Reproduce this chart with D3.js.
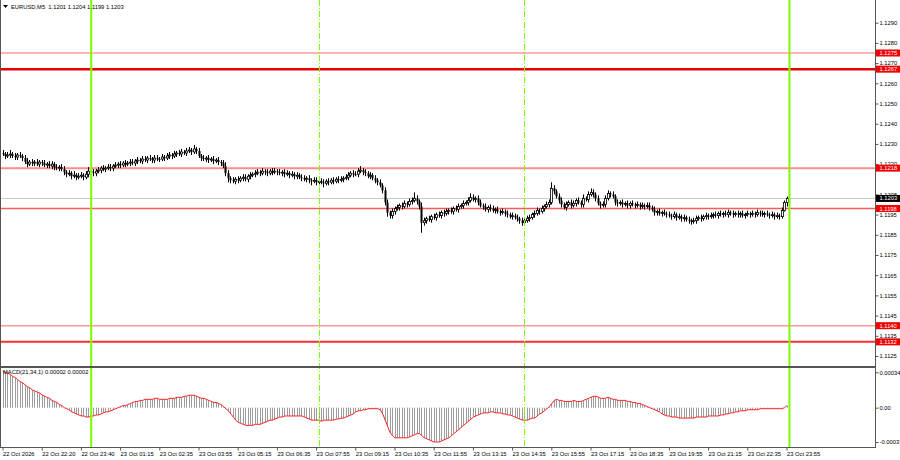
<!DOCTYPE html>
<html>
<head>
<meta charset="utf-8">
<script src="https://cdn.jsdelivr.net/npm/d3@7"></script>
<style>
  body { margin: 0; background: #fff; }
  svg { display: block; }
  text { font-family: "Liberation Sans", Arial, sans-serif; }
</style>
</head>
<body>
<svg id="chart" width="900" height="460"></svg>
<script>

// ---- data ----
var symbolTitle = 'EURUSD,M5';
var lastOHLC = ['1.1201', '1.1204', '1.1199', '1.1203'];
var macdTitle = 'MACD(21,34,1) 0.00002 0.00002';

// closes in pips above 1.1200, one per M5 bar
var pipBase = 1.1200, pip = 0.0001;
var firstOpen = 25.5;
var closePips = [
  25, 24, 24.5, 25, 24, 23.5, 24.5, 24, 23, 21, 20, 21, 20.5, 21, 20, 21,
  20.5, 19.5, 20, 19, 20, 18.5, 18, 18.5, 17.5, 16, 15, 15.5, 14, 14.5, 13.5, 14,
  14.5, 13.5, 15, 16.5, 16, 15.5, 16.5, 17, 18, 17.5, 18, 18.5, 18, 19, 19.5, 20,
  19.5, 20.5, 20, 20.5, 21, 20.5, 21.5, 22, 21.5, 22.5, 22, 23, 22.5, 22, 23, 22.5,
  22.5, 23.5, 23, 24, 24.5, 24, 25, 25.5, 25, 26, 25.5, 26.5, 27, 26, 27.5, 26.5,
  24, 23, 22.5, 23, 22, 22.5, 21.5, 22, 21, 20.5, 19, 15.5, 13, 12, 11.5, 12.5,
  12, 13, 13.5, 12.5, 14, 14.5, 15, 15.5, 16, 15.5, 16.5, 16, 15.5, 16.5, 16, 16.5,
  16, 15.5, 16, 15, 15.5, 14.5, 15, 14, 14.5, 13.5, 13, 12.5, 13, 12, 11.5, 12,
  11, 11.5, 11, 10.5, 11.5, 11, 12, 11.5, 12.5, 12, 12.5, 13, 13.5, 14.5, 15.5, 15,
  15, 16.5, 17, 16, 15.5, 14, 14.5, 13, 12, 11, 9.5, 7, 1, -4, -5.5, -3.5,
  -2, -1.5, -0.5, -1, 0.5, 0, 1.5, 2, 3, 1.5, -1, -9, -8, -7, -7.5, -6,
  -6.5, -5, -5.5, -4, -4.5, -3.5, -3, -3.5, -2, -2.5, -1, -0.5, 0.5, 1, 2, 3.5,
  2.5, 3, 1, -0.5, -1, -2.5, -1.5, -2, -3, -2.5, -3.5, -4, -3.5, -4.5, -5, -6,
  -5.5, -6.5, -7, -8, -9, -8, -7, -6.5, -5, -4.5, -3, -3.5, -2, -1, 0, 1,
  8, 6.5, 4, 2, 0, -1.5, 0, 1, -0.5, 0.5, 2, 1, 0, 3, 2.5, 5,
  6, 5, 3, 0.5, -0.5, 0, 3, 5.5, 5, 4, 1, 0.5, 1, 0, 0.5, -0.5,
  0.5, 0, -0.5, 0, -1, -0.5, -1, -0.5, -1.5, -2.5, -4, -3.5, -4.5, -4, -4.5, -5,
  -5.5, -6, -5, -6.5, -6, -7, -6.5, -7.5, -8, -8.5, -8, -7, -6.5, -7, -6, -5.5,
  -6, -5.5, -5, -5.5, -4.5, -5, -4.5, -5, -4, -4.5, -5, -4.5, -5, -4.5, -5.5, -5,
  -4.5, -5, -4.5, -5, -4, -4.5, -5, -4.5, -5, -5.5, -5, -6, -5.5, -6, -3, 1,
  3
];

// upper / lower shadow length in pips beyond the body
var wickHi = [
  1.5, 1, 1.5, 2, 1, 1.5, 1, 1.5, 1, 1.5, 2, 1, 1.5, 1, 1.5, 1,
  1, 1.5, 1, 1.5, 1.5, 1, 1.5, 1, 1.5, 1.5, 1, 1.5, 1, 2, 1, 1.5,
  1.5, 1, 1.5, 2, 1, 1.5, 1, 1.5, 1, 1.5, 1, 1.5, 1.5, 1, 1.5, 1,
  1.5, 1, 1.5, 1, 1.5, 1.5, 1, 1.5, 1, 1.5, 1.5, 1, 1.5, 1, 1.5, 1.5,
  1, 1.5, 1, 1.5, 1.5, 1, 1.5, 1, 1.5, 1.5, 1, 1.5, 1.5, 1, 2, 1,
  1.5, 1, 1.5, 1, 1.5, 1, 1.5, 1, 1.5, 1, 1.5, 2, 1.5, 1, 1.5, 1,
  1.5, 1, 1.5, 1.5, 1, 1.5, 1, 1.5, 1.5, 1, 1.5, 1, 1.5, 1, 1.5, 1.5,
  1, 1.5, 1, 1.5, 1.5, 1, 1.5, 1, 1.5, 1, 1.5, 1.5, 1, 1.5, 1, 1.5,
  1.5, 1, 1.5, 1.5, 1, 1.5, 1, 1.5, 1, 1.5, 1.5, 1, 1.5, 1.5, 1, 1.5,
  1.5, 1.5, 2, 1, 1.5, 1, 1.5, 1, 1.5, 1, 1.5, 1, 1.5, 1.5, 1, 1.5,
  1, 1.5, 1, 1.5, 1.5, 1, 1.5, 1.5, 3, 1.5, 1, 2, 1.5, 1, 1.5, 1,
  1.5, 1, 1.5, 1, 1.5, 1.5, 1, 1.5, 1, 1.5, 1.5, 1, 1.5, 1, 1.5, 2,
  1.5, 1, 1.5, 1.5, 1, 1.5, 1, 1.5, 1.5, 1, 1.5, 1, 1.5, 1, 1.5, 1,
  1.5, 1, 1.5, 1, 1.5, 1, 1.5, 1.5, 1, 1.5, 1.5, 1, 1.5, 1, 1.5, 1.5,
  3, 1.5, 1, 1.5, 1.5, 1, 1.5, 1, 1.5, 1.5, 1, 1.5, 1, 2, 1, 1.5,
  2, 1.5, 1, 1.5, 1, 1.5, 1.5, 1.5, 1, 1.5, 1, 1.5, 1, 1.5, 1, 1.5,
  1, 1.5, 1, 1.5, 1, 1.5, 1, 1.5, 1.5, 1, 1.5, 1, 1.5, 1, 1.5, 1,
  1.5, 1, 1.5, 1, 1.5, 1, 1.5, 1, 1.5, 1, 1.5, 1.5, 1, 1.5, 1, 1.5,
  1, 1.5, 1, 1.5, 1, 1.5, 1, 1.5, 1.5, 1, 1.5, 1, 1.5, 1, 1.5, 1,
  1.5, 1, 1.5, 1, 1.5, 1, 1.5, 1, 1.5, 1, 1.5, 1, 1.5, 1, 1.5, 1,
  1
];
var wickLo = [
  1, 1.5, 1, 1.5, 1, 1.5, 1.5, 1, 1.5, 1, 1.5, 1, 1.5, 1.5, 1, 1.5,
  1.5, 1, 1.5, 1, 1.5, 1.5, 1, 1.5, 1, 1.5, 1.5, 1, 1.5, 1, 1.5, 1,
  1, 1.5, 1, 1.5, 1, 1.5, 1.5, 1, 1.5, 1, 1.5, 1, 1.5, 1.5, 1, 1.5,
  1.5, 1, 1.5, 1, 1.5, 1, 1.5, 1.5, 1, 1.5, 1, 1.5, 1, 1.5, 1.5, 1,
  1.5, 1, 1.5, 1, 1.5, 1.5, 1, 1.5, 1, 1.5, 1, 1.5, 1, 1.5, 1, 1.5,
  1, 1.5, 1, 1.5, 1.5, 1, 1.5, 1, 1.5, 1.5, 1, 1.5, 2, 1.5, 1, 1.5,
  1.5, 1, 1.5, 1, 1.5, 1.5, 1, 1.5, 1, 1.5, 1, 1.5, 1.5, 1, 1.5, 1,
  1.5, 1, 1.5, 1.5, 1, 1.5, 1, 1.5, 1.5, 1, 1.5, 1, 1.5, 1.5, 2, 1,
  1.5, 1.5, 1, 2, 1, 1.5, 1, 1.5, 1, 1.5, 1, 1.5, 1, 1.5, 1, 1.5,
  1, 1.5, 1, 1.5, 1.5, 1, 1.5, 1, 1.5, 1.5, 1, 1.5, 1.5, 2, 1.5, 1.5,
  1.5, 1, 1.5, 1.5, 1, 1.5, 1, 1.5, 1, 1.5, 1.5, 5, 1.5, 1.5, 1, 1.5,
  1, 1.5, 1, 1.5, 1.5, 1, 1.5, 1, 1.5, 1, 1.5, 1, 1.5, 1, 1.5, 1,
  1, 1.5, 1.5, 1, 1.5, 1, 1.5, 1.5, 1, 1.5, 1, 1.5, 1, 1.5, 1.5, 1,
  1.5, 1, 1.5, 1.5, 1.5, 1.5, 1, 1.5, 1, 1.5, 1, 1.5, 1, 1.5, 1, 1.5,
  1, 1.5, 1, 1.5, 1.5, 1, 1.5, 1, 1.5, 1, 1.5, 1, 1.5, 1.5, 1, 1.5,
  1, 1.5, 1.5, 1, 1.5, 1, 1.5, 1, 1.5, 1, 1.5, 1.5, 1, 1.5, 1, 1.5,
  1.5, 1, 1.5, 1, 1.5, 1, 1.5, 1, 1.5, 1, 1.5, 1.5, 1, 1.5, 1, 1.5,
  1, 1.5, 1, 1.5, 1, 1.5, 1.5, 1, 1.5, 1.5, 1, 1.5, 1, 1.5, 1, 1.5,
  1.5, 1, 1.5, 1, 1.5, 1, 1.5, 1, 1.5, 1, 1.5, 1, 1.5, 1.5, 1, 1.5,
  1, 1.5, 1, 1.5, 1, 1.5, 1, 1.5, 1, 1.5, 1, 1.5, 1, 1.5, 1, 0.5,
  2
];

// MACD main value per bar, in units of 0.00001
var macdVals = [
  35, 34, 33, 32, 30, 29, 27, 25, 24, 22, 20, 19, 17, 16, 15, 14,
  12, 11, 10, 9, 7, 6, 5, 3, 2, 0, -1, -2, -4, -5, -6, -7,
  -8, -8, -9, -9, -8, -8, -7, -7, -6, -5, -4, -4, -3, -2, -1, 0,
  1, 2, 2, 3, 4, 5, 6, 6, 7, 7, 8, 8, 8, 8, 9, 9,
  8, 8, 8, 8, 9, 9, 9, 10, 10, 10, 11, 11, 12, 12, 12, 11,
  10, 9, 9, 8, 7, 6, 5, 5, 4, 3, 1, -1, -3, -6, -9, -12,
  -14, -15, -16, -17, -17, -17, -17, -16, -16, -16, -15, -14, -13, -12, -12, -11,
  -10, -9, -9, -8, -8, -8, -8, -8, -8, -8, -8, -9, -10, -11, -12, -12,
  -12, -12, -13, -12, -12, -12, -12, -12, -11, -11, -10, -10, -9, -8, -7, -6,
  -4, -3, -3, -2, -2, -1, -1, -1, -1, -1, -2, -6, -12, -18, -24, -27,
  -29, -29, -29, -29, -29, -29, -28, -27, -26, -25, -25, -27, -29, -30, -31, -32,
  -33, -33, -33, -32, -31, -30, -29, -27, -25, -23, -21, -19, -17, -15, -13, -11,
  -9, -8, -7, -6, -5, -5, -5, -4, -4, -5, -5, -5, -6, -6, -7, -7,
  -8, -9, -10, -11, -12, -12, -12, -11, -10, -10, -8, -6, -5, -3, -1, 1,
  4, 7, 8, 7, 7, 6, 6, 6, 6, 7, 6, 6, 6, 7, 8, 9,
  10, 11, 11, 10, 9, 9, 9, 10, 9, 8, 8, 7, 7, 7, 7, 6,
  6, 5, 5, 4, 4, 3, 2, 1, 0, -1, -2, -3, -4, -6, -7, -8,
  -8, -9, -9, -9, -10, -10, -10, -10, -10, -10, -10, -9, -9, -9, -9, -9,
  -8, -8, -8, -8, -8, -7, -7, -6, -6, -5, -5, -4, -4, -3, -3, -3,
  -2, -2, -2, -2, -2, -1, -1, -1, -1, -1, -1, -1, -1, -1, -1, 0,
  2
];

var priceTicks = [1.1290, 1.1280, 1.1270, 1.1260, 1.1250, 1.1240, 1.1230, 1.1220,
                  1.1205, 1.1195, 1.1185, 1.1175, 1.1165, 1.1155, 1.1145, 1.1135, 1.1125];
var levels = [1.1275, 1.1267, 1.1218, 1.1198, 1.1140, 1.1132];
var lastPrice = 1.1203;

var macdTicks = [0.00034, 0, -0.00033];
var macdTickLabels = ['0.00034', '0.00', '-0.00033'];

var timeLabels = ['22 Oct 2026', '22 Oct 22:20', '22 Oct 23:40', '23 Oct 01:15', '23 Oct 02:35',
                  '23 Oct 03:55', '23 Oct 05:15', '23 Oct 06:35', '23 Oct 07:55', '23 Oct 09:15',
                  '23 Oct 10:35', '23 Oct 11:55', '23 Oct 13:15', '23 Oct 14:35', '23 Oct 15:55',
                  '23 Oct 17:15', '23 Oct 18:35', '23 Oct 19:55', '23 Oct 21:15', '23 Oct 22:35',
                  '23 Oct 23:55'];
var labelBars = [0, 16, 32, 48, 64, 80, 96, 112, 128, 144, 160, 176, 192, 208, 224, 240,
                 256, 272, 288, 304, 320];
var dayLineBars = [36, 321];       // midnight separators
var sessionLineBars = [129, 213];  // dashed session markers

// ---- styling ----
var levelStyle = [
  {c: '#ff9a9a', w: 1.5},
  {c: '#e80000', w: 2.5},
  {c: '#ff8c8c', w: 2},
  {c: '#ff5a5a', w: 1.6},
  {c: '#ff9a9a', w: 1.5},
  {c: '#ff3030', w: 2}
];
var frameColor = '#555';
var greenColor = '#7cfc00';
var fontSize = 5.8;

var W = 900, H = 460;
var plotRight = 875.5;
var mainBottom = 366;
var macdTop = 368;
var macdBottom = 447.5;

var svg = d3.select('#chart');

var x = d3.scaleLinear().domain([0, 320]).range([2.5, 786.5]);
var y = d3.scaleLinear().domain([1.1125, 1.1290]).range([356, 22.7]);
var ym = d3.scaleLinear().domain([-0.00033, 0.00034]).range([442, 372.3]);
var px = p => pipBase + p * pip;

svg.append('rect').attr('width', W).attr('height', H).attr('fill', '#fff');

svg.append('clipPath').attr('id', 'main-clip')
   .append('rect').attr('x', 1).attr('y', 0).attr('width', plotRight - 1).attr('height', mainBottom);
svg.append('clipPath').attr('id', 'macd-clip')
   .append('rect').attr('x', 1).attr('y', macdTop).attr('width', plotRight - 1).attr('height', macdBottom - macdTop);

var main = svg.append('g').attr('clip-path', 'url(#main-clip)');
var macd = svg.append('g').attr('clip-path', 'url(#macd-clip)');

// current price line
main.append('line')
    .attr('x1', 0).attr('x2', plotRight)
    .attr('y1', y(lastPrice)).attr('y2', y(lastPrice))
    .attr('stroke', '#c8c8c8').attr('stroke-width', 1);

// horizontal levels
main.selectAll('.level')
    .data(levels)
    .enter()
    .append('line')
    .attr('class', 'level')
    .attr('x1', 0).attr('x2', plotRight)
    .attr('y1', d => y(d)).attr('y2', d => y(d))
    .attr('stroke', (d, i) => levelStyle[i].c)
    .attr('stroke-width', (d, i) => levelStyle[i].w);

// candles
var candles = closePips.map((c, i) => {
  var o = (i == 0) ? firstOpen : closePips[i - 1];
  return {i: i, o: o, c: c, h: Math.max(o, c) + wickHi[i], l: Math.min(o, c) - wickLo[i]};
});

var cg = main.append('g');
cg.selectAll('line')
  .data(candles)
  .enter()
  .append('line')
  .attr('x1', d => Math.round(x(d.i)) + 0.5)
  .attr('x2', d => Math.round(x(d.i)) + 0.5)
  .attr('y1', d => y(px(d.h)))
  .attr('y2', d => y(px(d.l)))
  .attr('stroke', '#000')
  .attr('stroke-width', 1);

cg.selectAll('rect')
  .data(candles)
  .enter()
  .append('rect')
  .attr('x', d => Math.round(x(d.i)) - 0.5)
  .attr('width', 2)
  .attr('y', d => y(px(Math.max(d.o, d.c))))
  .attr('height', d => Math.max(1, Math.abs(y(px(d.o)) - y(px(d.c)))))
  .attr('fill', d => (d.c > d.o) ? '#fff' : '#000')
  .attr('stroke', d => (d.c > d.o) ? '#000' : 'none')
  .attr('stroke-width', 0.8);

// MACD histogram + line
macd.selectAll('line')
    .data(macdVals)
    .enter()
    .append('line')
    .attr('x1', (d, i) => Math.round(x(i)) + 0.5)
    .attr('x2', (d, i) => Math.round(x(i)) + 0.5)
    .attr('y1', ym(0))
    .attr('y2', d => ym(d * 1e-5))
    .attr('stroke', '#9c9c9c')
    .attr('stroke-width', 1);

macd.append('path')
    .datum(macdVals)
    .attr('fill', 'none')
    .attr('stroke', '#ff2020')
    .attr('stroke-width', 1)
    .attr('d', d3.line().x((d, i) => x(i) + 0.5).y(d => ym(d * 1e-5)));

// vertical markers across both panels
svg.append('g').selectAll('line')
   .data(dayLineBars)
   .enter()
   .append('line')
   .attr('x1', d => x(d) + 0.5).attr('x2', d => x(d) + 0.5)
   .attr('y1', 0).attr('y2', macdBottom)
   .attr('stroke', greenColor).attr('stroke-width', 2);

svg.append('g').selectAll('line')
   .data(sessionLineBars)
   .enter()
   .append('line')
   .attr('x1', d => Math.round(x(d)) + 0.5).attr('x2', d => Math.round(x(d)) + 0.5)
   .attr('y1', 0).attr('y2', macdBottom)
   .attr('stroke', greenColor).attr('stroke-width', 1)
   .attr('stroke-dasharray', '6,2,1,2');

// frame
svg.append('line').attr('x1', 0.5).attr('x2', 0.5).attr('y1', 0).attr('y2', macdBottom)
   .attr('stroke', frameColor).attr('stroke-width', 1);
svg.append('line').attr('x1', plotRight).attr('x2', plotRight).attr('y1', 0).attr('y2', macdBottom)
   .attr('stroke', frameColor).attr('stroke-width', 1);
svg.append('rect').attr('x', 0).attr('y', mainBottom).attr('width', plotRight + 0.5).attr('height', 2)
   .attr('fill', frameColor);
svg.append('line').attr('x1', 0).attr('x2', plotRight + 0.5).attr('y1', macdBottom).attr('y2', macdBottom)
   .attr('stroke', frameColor).attr('stroke-width', 1);

// price axis
var yAxis = svg.append('g')
   .attr('transform', 'translate(' + plotRight + ',0)')
   .call(d3.axisRight(y).tickValues(priceTicks).tickSize(3).tickPadding(1).tickFormat(d3.format('.4f')));
yAxis.select('.domain').remove();

// MACD axis
var mAxis = svg.append('g')
   .attr('transform', 'translate(' + plotRight + ',0)')
   .call(d3.axisRight(ym).tickValues(macdTicks).tickSize(3).tickPadding(1)
           .tickFormat((d, i) => macdTickLabels[i]));
mAxis.select('.domain').remove();

// time axis
var xAxis = svg.append('g')
   .attr('transform', 'translate(0,' + macdBottom + ')')
   .call(d3.axisBottom(x).tickValues(labelBars).tickSize(3).tickPadding(1)
           .tickFormat((d, i) => timeLabels[i]));
xAxis.select('.domain').remove();
xAxis.selectAll('text').attr('text-anchor', 'start').attr('dx', 0);

svg.selectAll('.tick text').attr('font-size', fontSize).attr('fill', '#000')
   .attr('font-family', '"Liberation Sans", Arial, sans-serif');
svg.selectAll('.tick line').attr('stroke', frameColor);

// level tags on price axis
var tags = svg.append('g');
var tagData = levels.map((v, i) => ({v: v, bg: '#f00000'})).concat([{v: lastPrice, bg: '#000'}]);
tags.selectAll('rect')
    .data(tagData)
    .enter()
    .append('rect')
    .attr('x', plotRight + 0.5)
    .attr('y', d => y(d.v) - 3.5)
    .attr('width', W - plotRight)
    .attr('height', 7)
    .attr('fill', d => d.bg);
tags.selectAll('text')
    .data(tagData)
    .enter()
    .append('text')
    .attr('x', plotRight + 4)
    .attr('y', d => y(d.v))
    .attr('dy', '0.35em')
    .attr('font-size', fontSize)
    .attr('fill', '#fff')
    .text(d => d3.format('.4f')(d.v));

// titles
svg.append('path').attr('d', 'M3,5 L8,5 L5.5,8 Z').attr('fill', '#000');
svg.append('text')
   .attr('x', 11).attr('y', 7).attr('dy', '0.35em')
   .attr('font-size', fontSize)
   .attr('xml:space', 'preserve')
   .text(symbolTitle + '  ' + lastOHLC.join(' '));

svg.append('text')
   .attr('x', 3).attr('y', 372).attr('dy', '0.35em')
   .attr('font-size', fontSize)
   .text(macdTitle);

</script>
</body>
</html>
